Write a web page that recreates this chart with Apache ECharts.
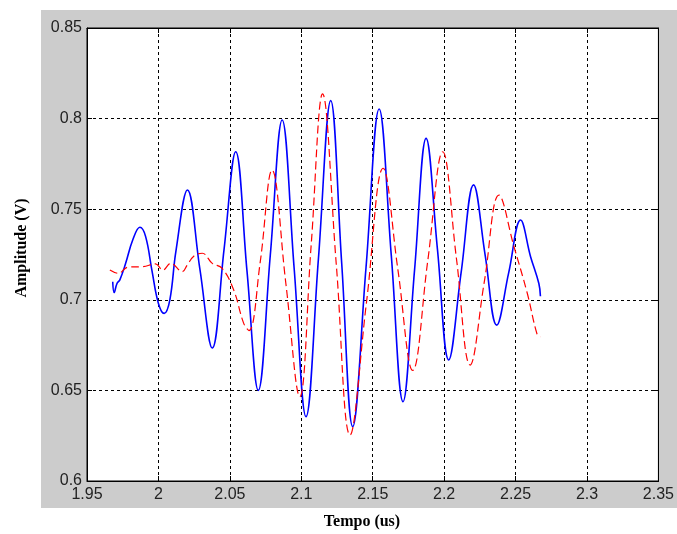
<!DOCTYPE html>
<html>
<head>
<meta charset="utf-8">
<script src="https://cdn.jsdelivr.net/npm/echarts@6/dist/echarts.min.js"></script>
<style>
  html, body { margin: 0; padding: 0; background: #fff; }
  #wrap { position: relative; width: 677px; height: 534px; }
  #bg { position: absolute; left: 41px; top: 10px; width: 636px; height: 498px; background: #cccccc; }
  #chart { position: absolute; left: 0; top: 0; width: 677px; height: 534px; }
</style>
</head>
<body>
<div id="wrap">
  <div id="bg"></div>
  <div id="chart"></div>
</div>
<script>
// axis ranges / ticks
const xMin = 1.95, xMax = 2.35, xStep = 0.05;
const yMin = 0.6, yMax = 0.85, yStep = 0.05;

// blue solid trace (time in us, amplitude in V)
const blueTime = [1.968, 1.969, 1.971, 1.973, 1.977, 1.982, 1.987, 1.991, 1.9955, 2.000, 2.004, 2.008,
  2.0122, 2.0203, 2.029, 2.0377, 2.0459, 2.0541, 2.062, 2.0699, 2.0783, 2.0866, 2.095, 2.1033,
  2.112, 2.1206, 2.1283, 2.136, 2.1453, 2.1545, 2.163, 2.1712, 2.1793, 2.1874, 2.1953, 2.2032,
  2.2119, 2.2206, 2.2287, 2.2368, 2.2452, 2.2535, 2.2605, 2.2663, 2.2674];
const blueAmp = [0.710, 0.704, 0.709, 0.711, 0.720, 0.733, 0.740, 0.735, 0.716, 0.698, 0.6925, 0.700,
  0.7266, 0.7606, 0.717, 0.6734, 0.7276, 0.7817, 0.7158, 0.650, 0.7246, 0.7992, 0.7174, 0.6355,
  0.7227, 0.8099, 0.720, 0.630, 0.7177, 0.8053, 0.7245, 0.6438, 0.7165, 0.7891, 0.728, 0.6668,
  0.7151, 0.7634, 0.7247, 0.686, 0.715, 0.744, 0.7238, 0.709, 0.702];

// red dashed trace
const redTime = [1.966, 1.972, 1.9785, 1.989, 1.998, 2.003, 2.0086, 2.0168, 2.020, 2.0249, 2.0307,
  2.0377, 2.0446, 2.0527, 2.0597, 2.0634, 2.0712, 2.0795, 2.0892, 2.0989, 2.1069, 2.1149, 2.1245,
  2.1341, 2.1457, 2.1573, 2.1676, 2.178, 2.1885, 2.199, 2.2086, 2.2182, 2.2283, 2.2384, 2.2489,
  2.2582, 2.2652, 2.2674];
const redAmp = [0.7164, 0.7146, 0.718, 0.7183, 0.7198, 0.7164, 0.7201, 0.7155, 0.719, 0.7242, 0.7257,
  0.7201, 0.7174, 0.7054, 0.687, 0.683, 0.7205, 0.7716, 0.709, 0.6465, 0.730, 0.8136, 0.7195,
  0.6254, 0.699, 0.7726, 0.7168, 0.661, 0.7213, 0.7817, 0.7228, 0.664, 0.7109, 0.7578, 0.7293,
  0.7036, 0.6806, 0.6796];

const bluePts = blueTime.map((t, i) => [t, blueAmp[i]]);
const redPts = redTime.map((t, i) => [t, redAmp[i]]);

const tickFont = { color: '#222', fontFamily: 'Liberation Sans', fontSize: 16 };
const gridLine = { show: true, lineStyle: { color: '#000', width: 1, type: [3, 3] } };
const tick = { show: true, inside: true, length: 5, lineStyle: { color: '#000' } };

const chart = echarts.init(document.getElementById('chart'));
chart.setOption({
  animation: false,
  backgroundColor: 'transparent',
  grid: {
    left: 87, right: 15, top: 28, bottom: 53,
    show: true, backgroundColor: '#fff', borderColor: '#000', borderWidth: 1
  },
  xAxis: [
    {
      type: 'value', min: xMin, max: xMax, interval: xStep,
      axisLine: { show: true, lineStyle: { color: '#000' } },
      axisTick: tick,
      axisLabel: Object.assign({ margin: 6 }, tickFont),
      splitLine: gridLine
    },
    {
      type: 'value', position: 'top', min: xMin, max: xMax, interval: xStep,
      axisLine: { show: true, lineStyle: { color: '#000' } },
      axisTick: tick, axisLabel: { show: false }, splitLine: { show: false }
    }
  ],
  yAxis: [
    {
      type: 'value', min: yMin, max: yMax, interval: yStep,
      axisLine: { show: true, lineStyle: { color: '#000' } },
      axisTick: tick,
      axisLabel: Object.assign({ margin: 5 }, tickFont),
      splitLine: gridLine
    },
    {
      type: 'value', position: 'right', min: yMin, max: yMax, interval: yStep,
      axisLine: { show: true, lineStyle: { color: '#000' } },
      axisTick: tick, axisLabel: { show: false }, splitLine: { show: false }
    }
  ],
  graphic: [
    {
      type: 'text', x: 362, y: 522,
      style: { text: 'Tempo (us)', fill: '#000', font: 'bold 16px "Liberation Serif"',
        textAlign: 'center', textVerticalAlign: 'middle' }
    },
    {
      type: 'text', x: 22, y: 248, rotation: Math.PI / 2,
      style: { text: 'Amplitude (V)', fill: '#000', font: 'bold 16px "Liberation Serif"',
        textAlign: 'center', textVerticalAlign: 'middle' }
    }
  ],
  series: [
    {
      type: 'line', data: bluePts, showSymbol: false, smooth: 0.4,
      lineStyle: { color: '#0000ff', width: 1.6 }
    },
    {
      type: 'line', data: redPts, showSymbol: false, smooth: 0.4,
      lineStyle: { color: '#ff0000', width: 1.2, type: [8, 4] }
    }
  ]
});
</script>
</body>
</html>
